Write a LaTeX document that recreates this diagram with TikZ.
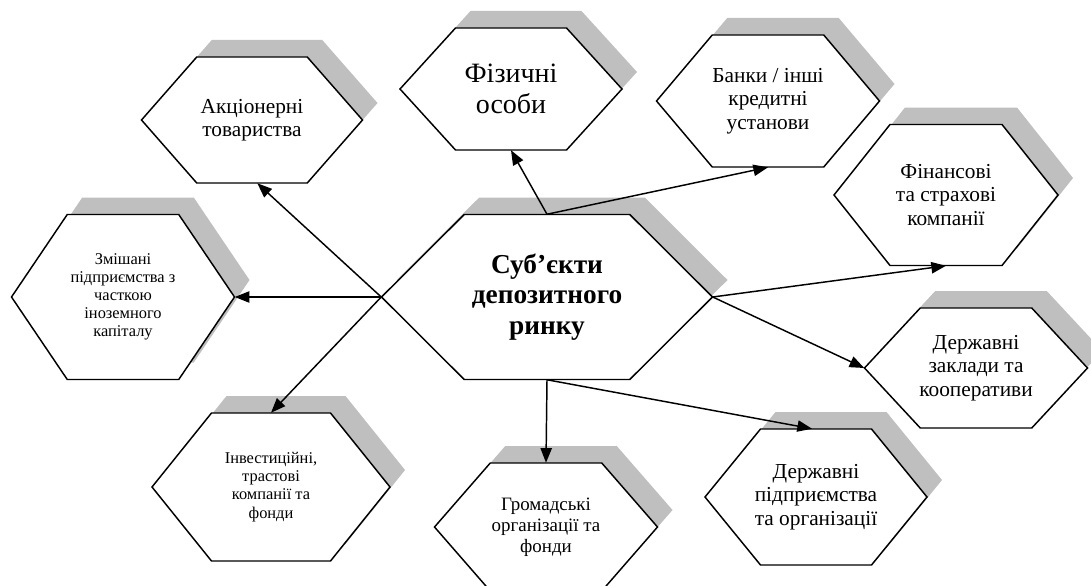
\documentclass[tikz,border=0pt]{standalone}
\usepackage{fontspec}
\setmainfont{Liberation Serif}
\usepackage{tikz}
\usetikzlibrary{arrows.meta,positioning,calc}
\definecolor{ShadowGray}{HTML}{BFBFBF}

\tikzset{
  hexline/.style={draw=black,fill=white,line width=1.1pt},
  hexshadow/.style={fill=ShadowGray},
  hexbox/.style={inner sep=0pt,align=center},
  link/.style={line width=1.1pt,-{Triangle[length=11pt,width=8.5pt]}},
  txtS/.style={font=\fontsize{12.3}{13.6}\selectfont},
  txtM/.style={font=\fontsize{14.2}{15.9}\selectfont},
  txtL/.style={font=\fontsize{16}{17.5}\selectfont},
  txtXL/.style={font=\fontsize{21}{22.8}\selectfont},
  txtHead/.style={font=\fontsize{20.5}{22.8}\selectfont\bfseries}
}

% hexagon with grey shadow: name, x, y, width, height, text style, text
\newcommand{\hexa}[7]{%
  \fill[hexshadow,shift={(15,-17)}] ({#2-#4/2},#3) -- ({#2-#4/4},{#3-#5/2}) -- ({#2+#4/4},{#3-#5/2})
    -- ({#2+#4/2},#3) -- ({#2+#4/4},{#3+#5/2}) -- ({#2-#4/4},{#3+#5/2}) -- cycle;
  \path[hexline] ({#2-#4/2},#3) -- ({#2-#4/4},{#3-#5/2}) -- ({#2+#4/4},{#3-#5/2})
    -- ({#2+#4/2},#3) -- ({#2+#4/4},{#3+#5/2}) -- ({#2-#4/4},{#3+#5/2}) -- cycle;
  \node[hexbox,#6,minimum width=#4*0.75pt,minimum height=#5*0.75pt] (#1) at (#2,#3) {#7};
}

\begin{document}
\begin{tikzpicture}[x=0.75pt,y=-0.75pt]
\useasboundingbox (0,0) rectangle (1091,585);
\clip (0,0) rectangle (1091,585);

\hexa{akc}{252}{120}{221}{126}{txtL}{Акціонерні\\товариства}
\hexa{fiz}{511}{89}{222}{122}{txtXL}{Фізичні\\особи}
\hexa{banky}{768}{101}{223}{132}{txtL}{Банки / інші\\кредитні\\установи}
\hexa{finans}{946}{195}{224}{141}{txtL}{Фінансові\\та страхові\\компанії}
\hexa{zmish}{123}{297}{223}{165}{txtS}{Змішані\\підприємства з\\часткою\\іноземного\\капіталу}
\hexa{subj}{547}{297}{331}{165}{txtHead}{Суб’єкти\\депозитного\\ринку}
\hexa{zaklady}{976}{368}{223}{120}{txtL}{Державні\\заклади та\\кооперативи}
\hexa{invest}{271}{487}{238}{148}{txtS}{Інвестиційні,\\трастові\\компанії та\\фонди}
\hexa{hromad}{546}{527}{223}{128}{txtM}{Громадські\\організації та\\фонди}
\hexa{pidpr}{816}{497}{222}{136}{txtL}{Державні\\підприємства\\та організації}

% connectors
\draw[link] (subj.north) -- (fiz.south);
\draw[link] (subj.north) -- (banky.south);
\draw[link] (subj.west) -- ([xshift=4]akc.south);
\draw[link] (subj.west) -- (zmish.east);
\draw[link] (subj.west) -- (invest.north);
\draw[link] (subj.south) -- (hromad.north);
\draw[link] (subj.south) -- ([xshift=-3]pidpr.north);
\draw[link] (subj.east) -- (finans.south);
\draw[link] (subj.east) -- (zaklady.west);
\end{tikzpicture}
\end{document}
